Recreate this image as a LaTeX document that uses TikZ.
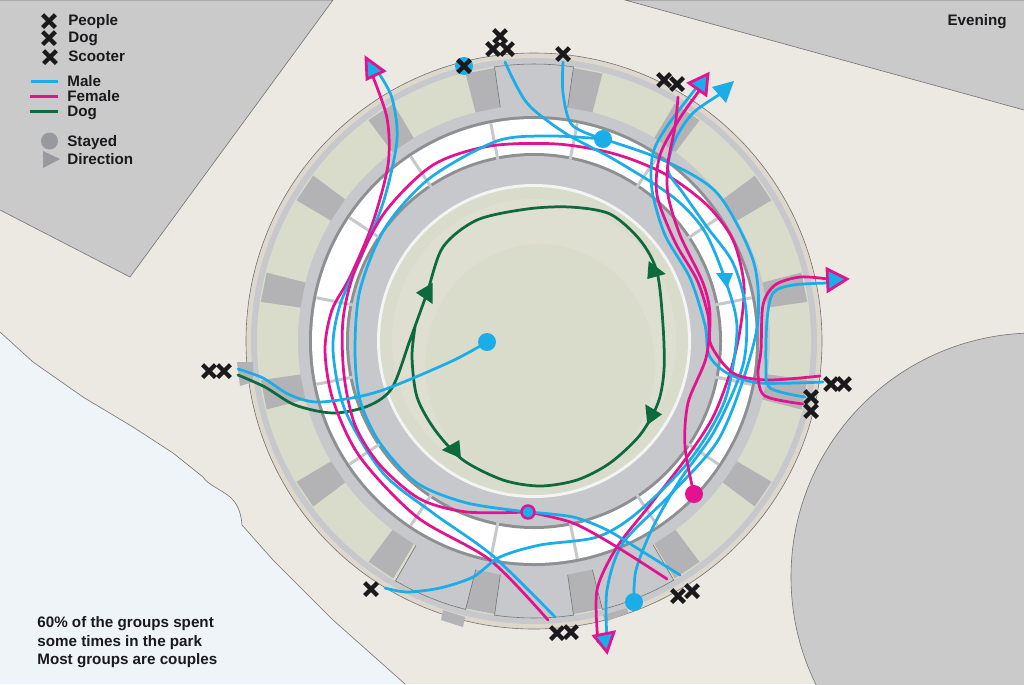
\documentclass[tikz,border=0pt]{standalone}
\usepackage{fontspec}
\setmainfont{Liberation Sans}
\usetikzlibrary{shapes.misc}
\definecolor{ground}{HTML}{ECE8E2}
\definecolor{block}{HTML}{CACACB}
\definecolor{water}{HTML}{EFF4F9}
\definecolor{band}{HTML}{C7C8CC}
\definecolor{rim}{HTML}{DED7CC}
\definecolor{lawn}{HTML}{DADCCB}
\definecolor{lawnlight}{HTML}{DFDFD1}
\definecolor{gap}{HTML}{B3B3B5}
\definecolor{ringdark}{HTML}{8E8F92}
\definecolor{male}{HTML}{1BADE8}
\definecolor{female}{HTML}{E3128F}
\definecolor{dogline}{HTML}{0C6A3E}
\definecolor{legendgrey}{HTML}{98999D}
\definecolor{inktext}{HTML}{1A1A1C}

\begin{document}
\begin{tikzpicture}[
x=0.02cm,y=-0.02cm,
edge/.style={draw=black!55,line width=0.012cm},
malepath/.style={draw=male,line width=0.055cm,line cap=round},
femalepath/.style={draw=female,line width=0.055cm,line cap=round},
dogpath/.style={draw=dogline,line width=0.055cm,line cap=round},
dirmark/.style={fill=male,draw=female,line width=0.055cm,line join=miter},
stayed/.style={circle,fill=male,inner sep=0pt,minimum size=0.36cm},
xmark/.style={cross out,draw=inktext,line width=0.085cm,inner sep=0pt,minimum size=0.17cm},
label/.style={anchor=base west,inner sep=0pt,text=inktext,font=\fontsize{8.65}{10}\selectfont\bfseries},
]
\clip (0,0) rectangle (1024,684);
\fill[ground] (0,0) rectangle (1024,684);

\fill[block] (0,0) -- (333,0) -- (130,277) -- (0,210) -- cycle;
\draw[edge] (0,0) -- (333,0) -- (130,277) -- (0,210);
\fill[block] (625,0) -- (1024,110) -- (1024,0) -- cycle;
\draw[edge] (1024,0) -- (625,0) -- (1024,110);
\fill[block,edge] (1035,577) circle (244);
\fill[water] (0,332) -- (33,362) -- (83,397) -- (133,427) -- (173,453) -- (203,477)
  .. controls (208,485) and (222,490) .. (230,497)
  .. controls (237,503) and (241,512) .. (242,525)
  -- (273,560) -- (333,620) -- (405,684) -- (0,684) -- cycle;
\draw[edge] (0,332) -- (33,362) -- (83,397) -- (133,427) -- (173,453) -- (203,477)
  .. controls (208,485) and (222,490) .. (230,497)
  .. controls (237,503) and (241,512) .. (242,525)
  -- (273,560) -- (333,620) -- (405,684);

\begin{scope}[shift={(534,341)}]
\fill[rim,edge] (0,0) circle (288);
\fill[band] (0,0) circle (283);
\fill[lawn] (0,0) circle (277);
\fill[band] (0,0) circle (236);

\foreach \a in {11.25,33.75,...,371.25}
  \fill[gap] (\a-3.1:236) -- (\a-3.1:276) -- (\a+3.1:276) -- (\a+3.1:236) -- cycle;

\foreach \a/\b in {-98.2/-81.8,104.3/120,81.8/98.2,59.7/75.7}{
  \fill[band] (\a:236) -- plot[domain=\a:\b,samples=9] (\x:277) -- (\b:236) -- cycle;
  \draw[edge] (\a:236) -- plot[domain=\a:\b,samples=9] (\x:277) -- (\b:236);
}

\fill[ringdark] (0,0) circle (225);
\fill[white] (0,0) circle (222);
\fill[ringdark] (0,0) circle (188);
\fill[band] (0,0) circle (185);
\foreach \a in {11.25,33.75,...,371.25}
  \draw[band,line width=0.06cm] (\a:184) -- (\a:222);

\fill[white!80!band] (0,0) circle (157);
\fill[lawn] (0,0) circle (154);
\fill[lawnlight] (0,0) circle (142);
\end{scope}
\fill[lawn] (540,365) ellipse (115 and 121);

\fill[gap] (603,615) -- (627,608) -- (628,613) -- (605,622) -- cycle;
\fill[gap] (443,610) -- (465,617) -- (463,627) -- (441,620) -- cycle;
\fill[gap] (237,362) -- (253,362) -- (253,382) -- (240,386) -- cycle;

\coordinate (stayCentre) at (487,342);
\coordinate (stayTop) at (603,139);
\coordinate (stayMid) at (528,512);
\coordinate (stayLow) at (634,602);
\coordinate (stayPink) at (694,494);

\draw[dogpath] plot[smooth] coordinates {(238,375) (265,387) (295,405) (333,413) (368,406) (392,388) (410,340) (427,293) (443,247) (477,220) (527,209) (570,207) (610,214) (640,240) (657,272) (663,325) (664,370) (658,403) (640,435) (610,463) (577,480) (540,486) (503,480) (463,460) (435,430) (417,397) (412,357) (415,327)};

\draw[femalepath] plot[smooth] coordinates {(548,620) (490,560) (417,517) (360,457) (333,400) (325,350) (332,310) (350,277) (372,225) (388,165) (387,118) (371,72)};
\draw[malepath] plot[smooth] coordinates {(555,617) (493,556) (433,513) (383,473) (345,410) (333,350) (340,305) (362,255) (384,200) (397,140) (392,98) (378,72)};
\draw[femalepath] plot[smooth] coordinates {(stayMid) (467,512) (420,499) (380,465) (355,425) (344,375) (343,320) (355,270) (385,212) (433,165) (490,146) (557,144) (615,154) (665,174) (707,205) (733,240) (744,285) (740,330) (730,373) (713,417) (687,457) (650,505) (617,547) (597,590) (598,642)};
\draw[malepath] plot[smooth] coordinates {(stayMid) (467,503) (417,483) (380,443) (360,400) (355,350) (360,290) (385,228) (430,178) (497,141) (550,136) (stayTop)};
\draw[malepath] plot[smooth] coordinates {(stayTop) (663,160) (717,193) (753,260) (758,320) (743,380) (717,442) (670,495) (623,543) (607,590) (607,640)};
\draw[malepath] plot[smooth] coordinates {(563,62) (563,93) (572,125) (stayTop)};
\draw[malepath] plot[smooth] coordinates {(505,62) (527,103) (565,133) (615,160) (673,197) (705,232) (727,285) (737,330) (725,400) (690,460) (637,513) (597,537) (540,545) (500,557) (473,577) (440,588) (407,592) (385,588)};
\draw[malepath] plot[smooth] coordinates {(722,93) (693,113) (675,140) (668,170) (683,193) (707,227) (733,263) (746,310) (743,365) (715,430) (680,480) (653,527) (636,570) (stayLow)};
\draw[malepath] plot[smooth] coordinates {(697,87) (668,125) (653,153) (652,190) (665,235) (690,278) (705,325) (709,355) (727,373) (760,383) (823,382)};
\draw[femalepath] plot[smooth] coordinates {(702,87) (680,118) (660,155) (657,195) (675,242) (697,280) (708,315) (711,345) (733,373) (767,380) (820,376)};
\draw[femalepath] plot[smooth] coordinates {(678,97) (675,127) (668,163) (668,195) (680,235) (703,283) (710,315) (706,358) (688,403) (685,447) (stayPink)};
\draw[femalepath] plot[smooth] coordinates {(stayMid) (573,523) (617,547) (667,579)};
\draw[malepath] plot[smooth] coordinates {(stayMid) (573,517) (607,530) (640,550) (680,575)};
\draw[femalepath] plot[smooth] coordinates {(828,279) (800,277) (775,285) (763,305) (761,350) (758,375) (765,396) (803,404)};
\draw[malepath] plot[smooth] coordinates {(828,283) (793,285) (773,293) (767,320) (766,365) (770,388) (805,397)};
\draw[malepath] plot[smooth] coordinates {(238,369) (263,378) (290,395) (320,402) (377,392) (450,362) (stayCentre)};

\fill[dogline] (416,292.7) -- (432.7,282.7) -- (432.7,304) -- cycle;
\fill[dogline] (648.7,261) -- (665.7,274) -- (647.3,279) -- cycle;
\fill[dogline] (645.3,404.3) -- (662,414.3) -- (647.3,425) -- cycle;
\fill[dogline] (441.7,450) -- (459.3,440) -- (461,458.3) -- cycle;

\fill[male] (716,273) -- (733,273) -- (727,288) -- cycle;
\fill[male] (734,81) -- (712,87) -- (726,103) -- cycle;
\draw[dirmark] (366,58) -- (384,71) -- (367,79) -- cycle;
\draw[dirmark] (689,83) -- (708,74) -- (706,95) -- cycle;
\draw[dirmark] (827,269) -- (847,279) -- (828,291) -- cycle;
\draw[dirmark] (594,636) -- (614,632) -- (607,652) -- cycle;

\node[stayed] (dotA) at (stayCentre) {};
\node[stayed] (dotB) at (stayTop) {};
\node[stayed] (dotC) at (stayLow) {};
\node[stayed] (dotD) at (464,66) {};
\node[stayed,fill=female] (dotE) at (stayPink) {};
\node[stayed,minimum size=0.26cm,draw=female,line width=0.05cm] (dotF) at (stayMid) {};

\foreach \x/\y [count=\i] in {49/21,49/38,50/57,209/371,224/371,500/36,493/49,507/49,464/66,563/54,664/80,677/84,831/384,844/384,811/397,811/411,371/589,557/633,571/632,678/596,692/591}
  \node[xmark] (cross\i) at (\x,\y) {};

\draw[male,line width=0.055cm] (31,81.5) -- (58,81.5);
\draw[female,line width=0.055cm] (30,96.5) -- (58,96.5);
\draw[dogline,line width=0.055cm] (30,111.5) -- (58,111.5);
\node[circle,fill=legendgrey,inner sep=0pt,minimum size=0.34cm] (legstay) at (49.5,141) {};
\fill[legendgrey] (43,151) -- (60,159) -- (43,168) -- cycle;

\node[label] (txtpeople) at (68,25) {People};
\node[label] (txtdog) at (68,42.7) {Dog};
\node[label] (txtscooter) at (68,61.5) {Scooter};
\node[label] (txtmale) at (67,86) {Male};
\node[label] (txtfemale) at (67,101) {Female};
\node[label] (txtdogline) at (67,116.7) {Dog};
\node[label] (txtstayed) at (67,146) {Stayed};
\node[label] (txtdirection) at (67,164) {Direction};
\node[label,anchor=base east] (txtevening) at (1007,25) {Evening};
\node[label] (txtline1) at (37,627) {60\% of the groups spent};
\node[label] (txtline2) at (37,646) {some times in the park};
\node[label] (txtline3) at (37,664) {Most groups are couples};
\end{tikzpicture}
\end{document}
